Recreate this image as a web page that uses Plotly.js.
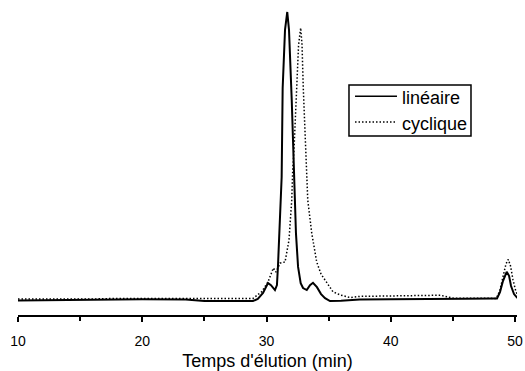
<!DOCTYPE html>
<html>
<head>
<meta charset="utf-8">
<script src="https://cdn.plot.ly/plotly-3.0.1.min.js"></script>
<style>html,body{margin:0;padding:0;background:#fff}#chart{width:525px;height:371px}</style>
</head>
<body>
<div id="chart"></div>
<script>
// Elution time (min) and detector response (arbitrary units, linear peak = 100)
const linTime = [10, 12, 14, 16, 17.2, 20, 23.5, 25, 27, 28.91, 29.3, 29.72, 30.12, 30.36, 30.68, 30.84, 30.92, 31.09, 31.22, 31.30, 31.49, 31.67, 31.81, 32.03, 32.16, 32.29, 32.37, 32.54, 32.75, 32.94, 33.24, 33.5, 33.74, 34.06, 34.39, 34.71, 35.11, 36, 37.5, 40, 42, 44, 46, 48.3, 48.55, 48.79, 49.03, 49.33, 49.52, 49.68, 49.92, 50.16, 50.56];
const linValue = [0.2, 0.3, 0.2, 0.3, 0.5, 0.6, 0.5, 0.0, 0.0, 0.0, 0.7, 2.8, 6.2, 5.5, 3.8, 5.5, 11.8, 29.1, 42.9, 73.7, 93.8, 100, 93.8, 69.6, 52.2, 34.9, 23.5, 11.8, 6.2, 4.5, 3.8, 5.5, 6.3, 4.8, 2.4, 1.0, 0.0, 0.1, 0.5, 0.6, 0.6, 0.6, 0.8, 0.9, 0.9, 3.1, 6.9, 10.1, 8.7, 5.2, 2.4, 1.2, 1.0];

const cycTime = [10, 12, 14, 16, 18, 20, 22, 24, 25.2, 27, 28.91, 29.61, 30.12, 30.55, 30.76, 31.09, 31.49, 31.81, 32.03, 32.11, 32.21, 32.43, 32.58, 32.75, 32.86, 32.96, 33.18, 33.32, 33.64, 34.04, 34.39, 34.85, 35.35, 35.92, 36.72, 37.5, 40, 42, 44, 45, 47, 48.5, 48.79, 49.03, 49.27, 49.46, 49.64, 49.84, 50.08, 50.32, 50.64];
const cycValue = [0.7, 0.7, 0.6, 0.7, 0.9, 0.9, 0.9, 0.8, 0.9, 0.9, 0.9, 3.2, 6.6, 11.4, 10.0, 13.1, 13.5, 21.1, 34.9, 45.3, 52.2, 73.7, 88.6, 94.5, 88.6, 73.7, 52.2, 34.9, 23.5, 13.5, 9.3, 6.2, 3.2, 2.1, 1.2, 1.6, 1.8, 2.0, 2.0, 1.0, 0.9, 0.9, 3.8, 8.0, 12.8, 14.4, 12.1, 7.3, 3.1, 1.4, 1.0];

const seriesNames = ['linéaire', 'cyclique'];
const xTicks = [10, 20, 30, 40, 50];
const xTitle = "Temps d'élution (min)";

const lineStyles = [
  {color: '#000', width: 2, dash: 'solid'},
  {color: '#000', width: 1.5, dash: '1.5px,2px'}
];

const traces = [
  {x: linTime, y: linValue, name: seriesNames[0], type: 'scatter', mode: 'lines', line: lineStyles[0], showlegend: false},
  {x: cycTime, y: cycValue, name: seriesNames[1], type: 'scatter', mode: 'lines', line: lineStyles[1], showlegend: false}
];

// Legend drawn in paper coordinates
const legBox = {x0: 0.6633, x1: 0.9078, y0: 0.5683, y1: 0.7302};
const legRows = [0.6943, 0.6127];
const shapes = [
  {type: 'rect', xref: 'paper', yref: 'paper', x0: legBox.x0, x1: legBox.x1, y0: legBox.y0, y1: legBox.y1,
   line: {color: '#000', width: 1.5}, fillcolor: '#fff', layer: 'above'}
];
const annotations = [];
seriesNames.forEach((n, i) => {
  shapes.push({type: 'line', xref: 'paper', yref: 'paper', x0: 0.6754, x1: 0.7595, y0: legRows[i], y1: legRows[i],
    line: {color: lineStyles[i].color, width: 1.5, dash: lineStyles[i].dash}, layer: 'above'});
  annotations.push({xref: 'paper', yref: 'paper', x: 0.7655, y: legRows[i] - 0.005, xanchor: 'left', yanchor: 'middle',
    text: n, showarrow: false, font: {size: 18, color: '#000'}});
});

const layout = {
  width: 525, height: 371,
  margin: {l: 18, r: 8, t: 0, b: 56, pad: 0},
  paper_bgcolor: '#fff', plot_bgcolor: '#fff',
  font: {family: 'Liberation Sans, Arial, sans-serif', color: '#000', size: 14},
  showlegend: false,
  shapes: shapes,
  annotations: annotations,
  xaxis: {
    range: [10, 50.16], showgrid: false, zeroline: false,
    showline: true, linecolor: '#000', linewidth: 2,
    ticks: 'outside', ticklen: 5, tickwidth: 2, tickcolor: '#000',
    tickvals: xTicks, ticktext: xTicks.map(String),
    minor: {ticks: 'outside', ticklen: 4, tickwidth: 2, tickcolor: '#000', dtick: 5, tick0: 15, showgrid: false},
    tickfont: {size: 14},
    ticklabelstandoff: 7,
    title: {text: xTitle, font: {size: 18}, standoff: 7}
  },
  yaxis: {range: [-4.84, 104.15], visible: false, showgrid: false, zeroline: false}
};

Plotly.newPlot('chart', traces, layout, {displayModeBar: false, staticPlot: true});
</script>
</body>
</html>
